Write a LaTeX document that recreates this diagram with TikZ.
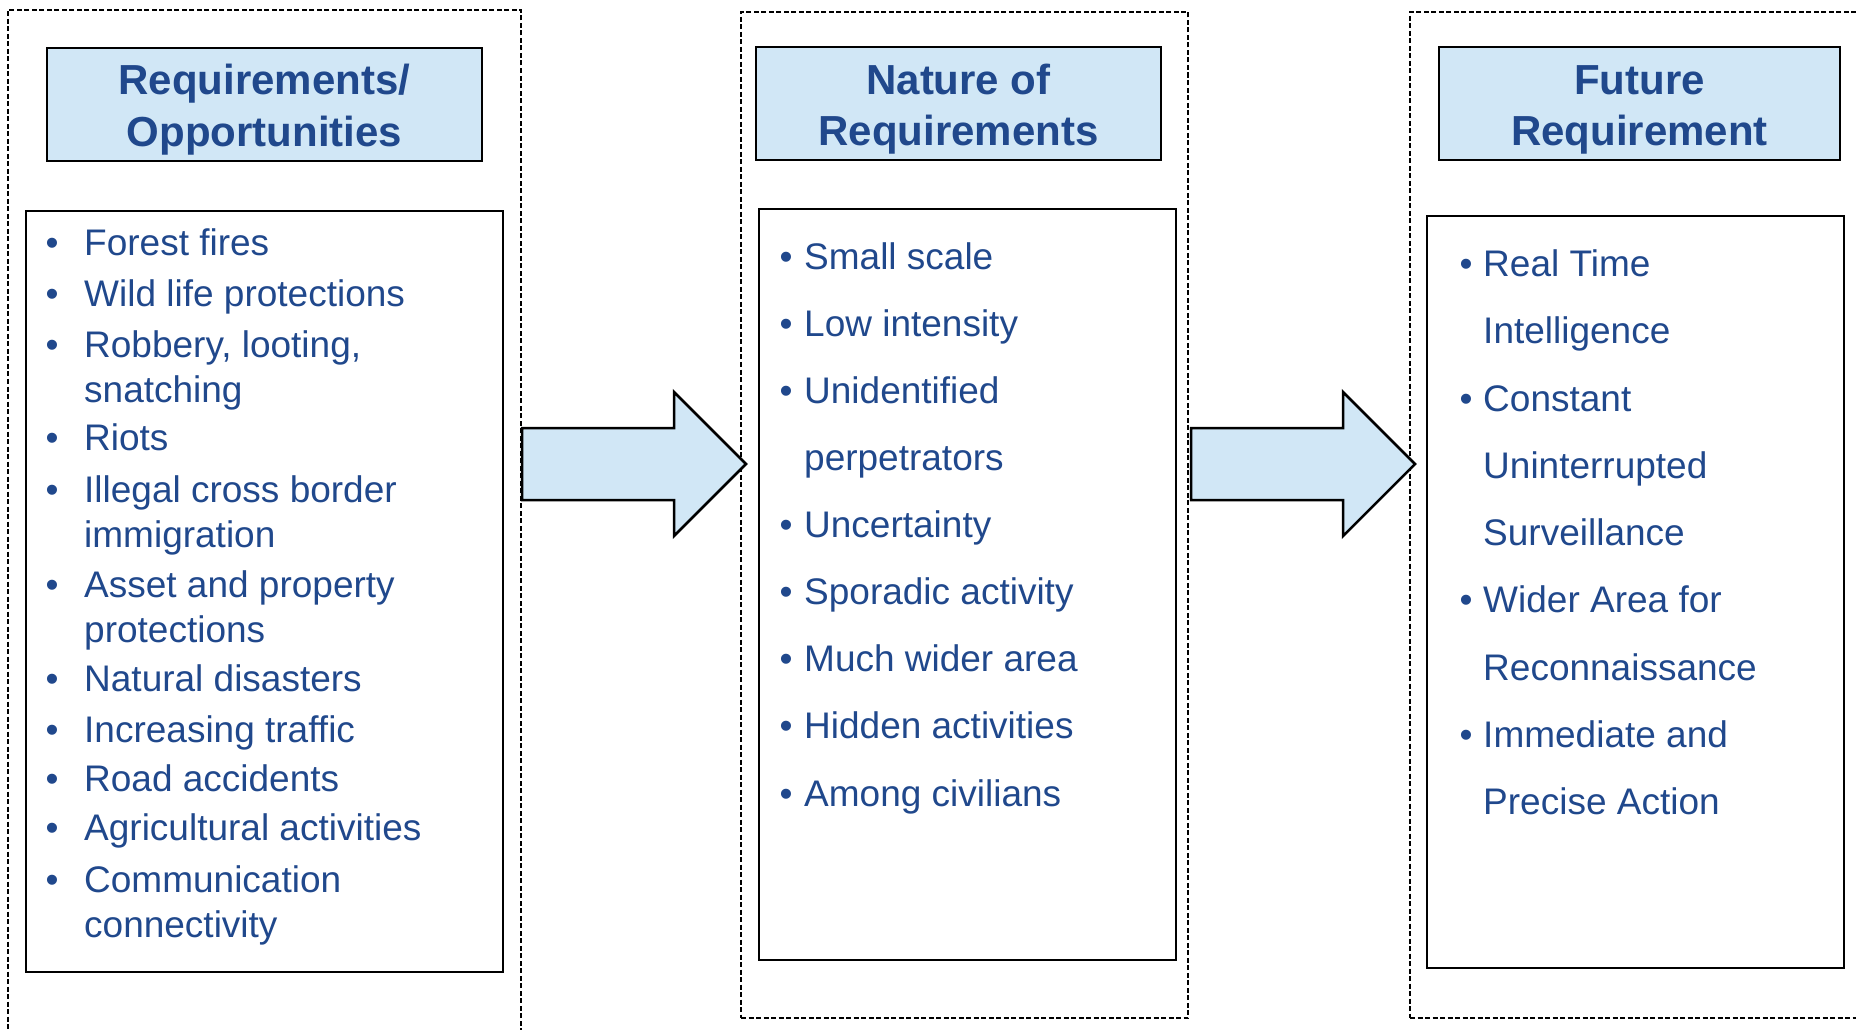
\documentclass[tikz,border=0pt]{standalone}
\usepackage{fontspec}
\setmainfont{Liberation Sans}
\usetikzlibrary{positioning}
\definecolor{azulTexto}{RGB}{32,72,140}
\definecolor{azulClaro}{RGB}{209,231,246}

\begin{document}
\begin{tikzpicture}[
    % Unidade = 1 pixel da figura, eixo y para baixo
    x=1pt, y=-1pt,
    % Colunas tracejadas
    coluna/.style={draw, dash pattern=on 5pt off 2.5pt, line width=1.8pt, inner sep=0pt},
    % Caixas de titulo
    titulo/.style={draw, fill=azulClaro, line width=2pt, inner sep=0pt},
    tituloTxt/.style={anchor=base, inner sep=0pt, text=azulTexto,
      font=\fontsize{42}{50}\selectfont\bfseries},
    % Caixas das listas
    lista/.style={draw, line width=2.5pt, inner sep=0pt},
    itemTxt/.style={anchor=base west, inner sep=0pt, text=azulTexto,
      font=\fontsize{37}{45}\selectfont},
    marca/.style={anchor=base, inner sep=0pt, text=azulTexto,
      font=\fontsize{37}{45}\selectfont},
    % Setas grandes entre as colunas
    seta/.style={draw, fill=azulClaro, line width=2.5pt, line join=miter}
  ]

  \useasboundingbox (0,0) rectangle (1856,1030);

  % Colunas tracejadas (a esquerda e a direita passam da borda)
  \node[coluna, minimum width=513pt, minimum height=1035pt] (c1) at (264.5,527.5) {};
  \node[coluna, minimum width=447pt, minimum height=1006pt] (c2) at (964.5,515) {};
  \node[coluna, minimum width=470pt, minimum height=1006pt] (c3) at (1645,515) {};

  % Setas: da coluna 1 para a 2 e da 2 para a 3
  \coordinate (s1) at (522,464);
  \coordinate (p1) at (746,464);
  \coordinate (s2) at (1191,464);
  \coordinate (p2) at (1415,464);
  \draw[seta] (s1) ++(0,-36) -- ++(152,0) -- ++(0,-36) -- (p1)
    -- ++(-72,72) -- ++(0,-36) -- ++(-152,0) -- cycle;
  \draw[seta] (s2) ++(0,-36) -- ++(152,0) -- ++(0,-36) -- (p2)
    -- ++(-72,72) -- ++(0,-36) -- ++(-152,0) -- cycle;

  % Titulos
  \node[titulo, minimum width=435pt, minimum height=113pt] (t1) at (264.5,104.5) {};
  \node[tituloTxt] (t1a) at (264.5,95) {Requirements/};
  \node[tituloTxt] (t1b) at (264.5,147) {Opportunities};

  \node[titulo, minimum width=405pt, minimum height=113pt] (t2) at (958.5,103.5) {};
  \node[tituloTxt] (t2a) at (958.5,95) {Nature of};
  \node[tituloTxt] (t2b) at (958.5,146) {Requirements};

  \node[titulo, minimum width=401pt, minimum height=113pt] (t3) at (1639.5,103.5) {};
  \node[tituloTxt] (t3a) at (1639.5,95) {Future};
  \node[tituloTxt] (t3b) at (1639.5,146) {Requirement};

  % Caixas das listas
  \node[lista, minimum width=477pt, minimum height=761pt] (l1) at (264.5,591.5) {};
  \node[lista, minimum width=417pt, minimum height=751pt] (l2) at (967.5,584.5) {};
  \node[lista, minimum width=417pt, minimum height=752pt] (l3) at (1635.5,592) {};

  % Lista da esquerda (1 = linha com marcador)
  \foreach \yy/\txt/\b [count=\i] in {
      255/Forest fires/1,
      306/Wild life protections/1,
      {357/Robbery, looting,/1},
      402/snatching/0,
      450/Riots/1,
      502/Illegal cross border/1,
      547/immigration/0,
      597/Asset and property/1,
      642/protections/0,
      691/Natural disasters/1,
      742/Increasing traffic/1,
      791/Road accidents/1,
      840/Agricultural activities/1,
      892/Communication/1,
      937/connectivity/0} {
    \node[itemTxt] (e\i) at (84,\yy) {\txt};
    \ifnum\b=1 \node[marca] (eb\i) at (52,\yy) {•}; \fi
  }

  % Lista do meio
  \foreach \yy/\txt/\b [count=\i] in {
      269/Small scale/1,
      336/Low intensity/1,
      403/Unidentified/1,
      470/perpetrators/0,
      537/Uncertainty/1,
      604/Sporadic activity/1,
      671/Much wider area/1,
      738/Hidden activities/1,
      806/Among civilians/1} {
    \node[itemTxt] (m\i) at (804,\yy) {\txt};
    \ifnum\b=1 \node[marca] (mb\i) at (786,\yy) {•}; \fi
  }

  % Lista da direita
  \foreach \yy/\txt/\b [count=\i] in {
      276/Real Time/1,
      343/Intelligence/0,
      411/Constant/1,
      478/Uninterrupted/0,
      545/Surveillance/0,
      612/Wider Area for/1,
      680/Reconnaissance/0,
      747/Immediate and/1,
      814/Precise Action/0} {
    \node[itemTxt] (d\i) at (1483,\yy) {\txt};
    \ifnum\b=1 \node[marca] (db\i) at (1466,\yy) {•}; \fi
  }

\end{tikzpicture}
\end{document}
